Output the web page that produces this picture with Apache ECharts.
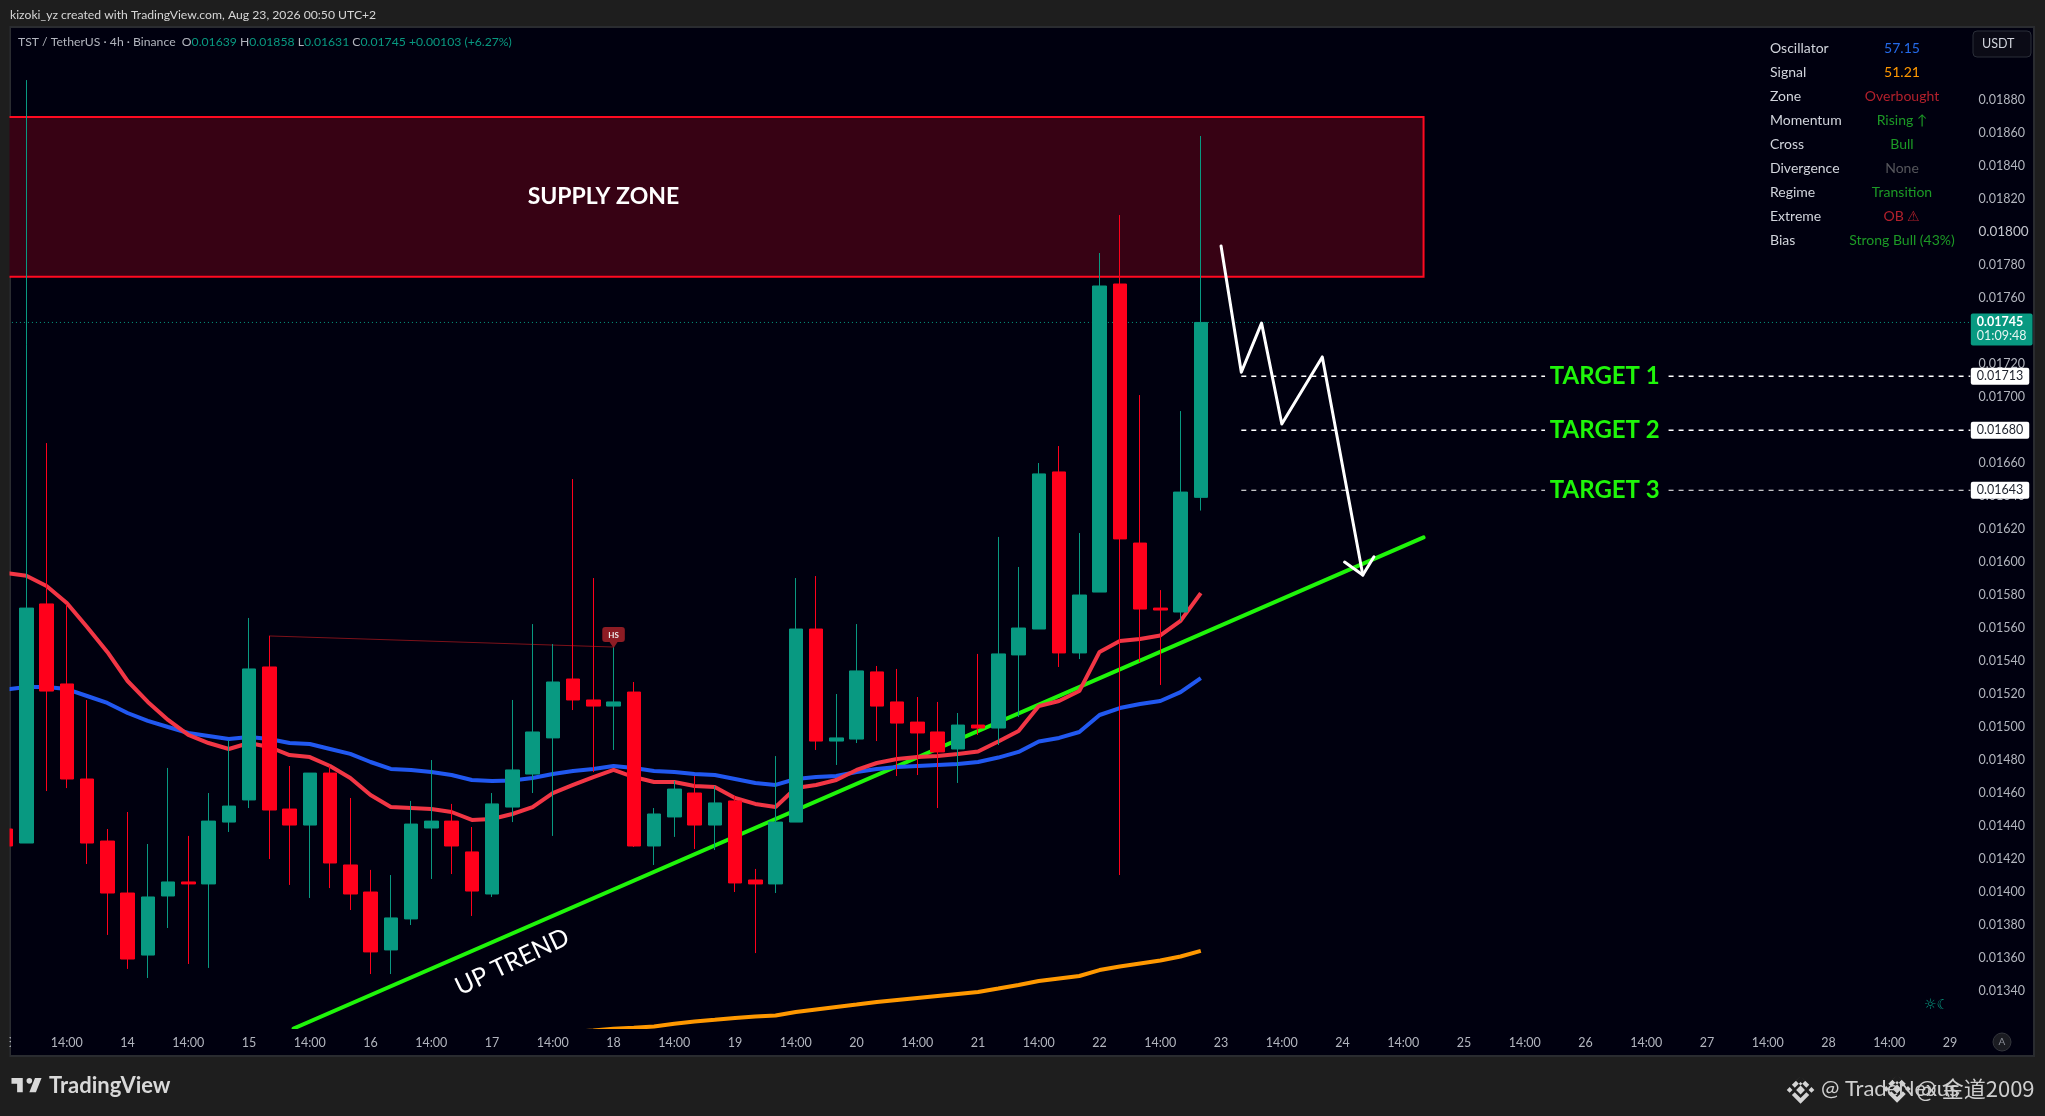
<!DOCTYPE html>
<html><head><meta charset="utf-8">
<style>html,body{margin:0;padding:0;background:#1e1e1e}#c{width:2045px;height:1116px}</style>
<script src="https://cdn.jsdelivr.net/npm/echarts@6/dist/echarts.min.js"></script>
</head><body><div id="c"></div>
<script>
const opens=[.014380,.014295,.015744,.015259,.014683,.014307,.013992,.013616,.013974,.014059,.014047,.014422,.014556,.015362,.014501,.014404,.014719,.014162,.013998,.013647,.013835,.014386,.014428,.014241,.013986,.014513,.014713,.014932,.015289,.015162,.015125,.015210,.014277,.014453,.014598,.014404,.014550,.014071,.014047,.014422,.015592,.014913,.014925,.015332,.015150,.015028,.014968,.014865,.015010,.014992,.015435,.015592,.016544,.015447,.015816,.017683,.016113,.015719,.015695,.016390];
const closes=[.014277,.015719,.015216,.014683,.014295,.013992,.013592,.013968,.014059,.014047,.014428,.014519,.015350,.014495,.014404,.014719,.014174,.013986,.013635,.013841,.014410,.014428,.014277,.014004,.014532,.014738,.014968,.015271,.015162,.015125,.015150,.014277,.014471,.014622,.014404,.014538,.014053,.014047,.014422,.015592,.014913,.014932,.015338,.015125,.015022,.014962,.014847,.015010,.014992,.015441,.015598,.016532,.015447,.015798,.017671,.016138,.015713,.015707,.016422,.017450];
const highs=[.014380,.018919,.016719,.015744,.015162,.014380,.014483,.014289,.014750,.014338,.014598,.014919,.015659,.015550,.014762,.014719,.014762,.014568,.014132,.014101,.014550,.014798,.014532,.014392,.014598,.015162,.015622,.015501,.016501,.015901,.015483,.015271,.014507,.014671,.014701,.014641,.014580,.014138,.014822,.015901,.015913,.015198,.015622,.015368,.015350,.015180,.015150,.015083,.015441,.016150,.015968,.016598,.016701,.016174,.017871,.018101,.017010,.015828,.016913,.018580];
const lows=[.014277,.014295,.014610,.014628,.014168,.013738,.013532,.013477,.013780,.013562,.013538,.014362,.014507,.014198,.014041,.013962,.014022,.013889,.013501,.013501,.013798,.014077,.014107,.013853,.013968,.014422,.014598,.014338,.015101,.014725,.014859,.014271,.014162,.014332,.014259,.014253,.013998,.013628,.013992,.014422,.014859,.014768,.014901,.014913,.014701,.014707,.014507,.014659,.014950,.014889,.015059,.015592,.015362,.015410,.015816,.014101,.015392,.015253,.015641,.016310];
const emaFast=[.015932,.015915,.015853,.015750,.015604,.015453,.015277,.015150,.015041,.014950,.014901,.014865,.014901,.014877,.014828,.014816,.014762,.014689,.014586,.014513,.014507,.014501,.014483,.014435,.014441,.014471,.014513,.014598,.014647,.014695,.014738,.014695,.014665,.014665,.014641,.014635,.014568,.014532,.014513,.014628,.014647,.014677,.014738,.014780,.014804,.014816,.014822,.014835,.014850,.014910,.014974,.015125,.015156,.015216,.015453,.015519,.015532,.015553,.015641,.015810];
const emaMid=[.015225,.015241,.015241,.015228,.015186,.015144,.015083,.015035,.014998,.014962,.014944,.014925,.014938,.014925,.014901,.014895,.014865,.014835,.014786,.014744,.014738,.014725,.014707,.014677,.014671,.014674,.014689,.014713,.014732,.014744,.014762,.014750,.014732,.014725,.014713,.014707,.014683,.014659,.014647,.014683,.014695,.014701,.014725,.014744,.014756,.014762,.014768,.014774,.014786,.014813,.014847,.014910,.014932,.014968,.015071,.015113,.015138,.015156,.015210,.015295];
const emaSlow=[null,null,null,null,null,null,null,null,null,null,null,null,null,null,null,null,null,null,null,null,null,null,null,null,null,null,null,null,.013150,.013159,.013169,.013175,.013183,.013200,.013214,.013224,.013235,.013244,.013250,.013271,.013286,.013301,.013316,.013332,.013344,.013356,.013368,.013380,.013392,.013413,.013435,.013459,.013474,.013489,.013525,.013547,.013565,.013583,.013607,.013641];
const timeTicks=['13','14:00','14','14:00','15','14:00','16','14:00','17','14:00','18','14:00','19','14:00','20','14:00','21','14:00','22','14:00','23','14:00','24','14:00','25','14:00','26','14:00','27','14:00','28','14:00','29'];
const priceTicks=[.0134,.0136,.0138,.014,.0142,.0144,.0146,.0148,.015,.0152,.0154,.0156,.0158,.016,.0162,.0164,.0166,.0168,.017,.0172,.0174,.0176,.0178,.018,.0182,.0184,.0186,.0188];
const firstBar=-1, barCount=98;
const supplyZone={fromBar:-1.5,toBar:69,top:.018695,bottom:.017727,label:'SUPPLY ZONE',labelBar:28.5};
const trendLine=[[13.2,.013171],[69,.016147]];
const pathLine=[[59,.017914],[60,.017148],[61,.017446],[62,.016835],[64,.017241],[66,.015919]];
const arrowHead=[[65.1,.015998],[66,.015919],[66.55,.016030]];
const targets=[{name:'TARGET 1',price:.01713,drawn:.017124,width:1.5},{name:'TARGET 2',price:.0168,drawn:.016797,width:1.5},{name:'TARGET 3',price:.01643,drawn:.016433,width:1}];
const targetBars={start:60,gapFrom:75,label:77.95,gapTo:81.1,end:96};
const lastPrice=.01745, countdown='01:09:48';
const hsLine=[[12,.015550],[29,.015483]];
const upTrendLabel=[24,.013574];
const tableLabels=['Oscillator','Signal','Zone','Momentum','Cross','Divergence','Regime','Extreme','Bias'];
const tableValues=['57.15','51.21','Overbought','Rising ↑','Bull','None','Transition','OB ⚠','Strong Bull (43%)'];
const tableColors=['#2469e8','#ff9800','#b2202c','#1c9a26','#1c9a26','#55565c','#1c9a26','#b2202c','#1c9a26'];

const FONT='Lato';
const categories=Array.from({length:barCount},(_,k)=>k%3===0?(timeTicks[k/3]||''):'');
const candles=opens.map((o,i)=>[o,closes[i],lows[i],highs[i]]);
const tx={xAxisIndex:1,yAxisIndex:0};
const plain=(name,data,color,width,z,extra)=>Object.assign({type:'line',name,data,...tx,symbol:'none',z,silent:true,animation:false,
  lineStyle:{color,width,cap:'round',join:'round'}},extra||{});
const textPoint=(value,text,style,z,extra)=>Object.assign({type:'scatter',...tx,data:[value],symbolSize:1,itemStyle:{color:'transparent',opacity:1},z,silent:true,animation:false,
  label:Object.assign({show:true,position:'inside',formatter:()=>text,fontFamily:FONT},style)},extra||{});

const series=[
 {type:'line',...tx,data:[],z:1,silent:true,animation:false,symbol:'none',
  markArea:{silent:true,itemStyle:{color:'#370214',opacity:1,borderColor:'#ff0a20',borderWidth:2},
   data:[[{coord:[supplyZone.fromBar,supplyZone.top]},{coord:[supplyZone.toBar,supplyZone.bottom]}]]}},
 plain('last',[[-1.5,lastPrice],[96,lastPrice]],'#089981',1,1.5,{lineStyle:{color:'#089981',width:1,type:[1,3]}}),
 plain('trend',trendLine,'#1ff50a',4,2),
 plain('hs',hsLine,'#7c1119',1,2),
 {type:'line',name:'ema mid',data:emaMid,xAxisIndex:0,yAxisIndex:0,symbol:'none',z:2,silent:true,animation:false,lineStyle:{color:'#2158f0',width:4}},
 {type:'line',name:'ema fast',data:emaFast,xAxisIndex:0,yAxisIndex:0,symbol:'none',z:2.1,silent:true,animation:false,lineStyle:{color:'#f23645',width:4}},
 {type:'line',name:'ema slow',data:emaSlow,xAxisIndex:0,yAxisIndex:0,symbol:'none',z:2,silent:true,animation:false,connectNulls:false,lineStyle:{color:'#ff9800',width:4}},
 {type:'candlestick',data:candles,xAxisIndex:0,yAxisIndex:0,barWidth:14,z:3,silent:true,animation:false,
  itemStyle:{color:'#089981',color0:'#ff001b',borderColor:'#089981',borderColor0:'#ff001b',borderWidth:1}},
 plain('path',pathLine,'#ffffff',3,4),
 plain('arrow',arrowHead,'#ffffff',3,4),
];
targets.forEach(t=>{
 series.push(plain(t.name+' a',[[targetBars.start,t.drawn],[targetBars.gapFrom,t.drawn]],'#ffffff',t.width,3.5,{lineStyle:{color:'#fff',width:t.width,type:[5,5]}}));
 series.push(plain(t.name+' b',[[targetBars.gapTo,t.drawn],[targetBars.end,t.drawn]],'#ffffff',t.width,3.5,{lineStyle:{color:'#fff',width:t.width,type:[5,5]}}));
 series.push(textPoint([targetBars.label,t.drawn],t.name,{color:'#1ff50a',fontSize:24,fontWeight:'bold'},5));
 series.push(textPoint([targetBars.end,t.drawn],t.price.toFixed(5),{position:'right',distance:0,color:'#1e222d',fontSize:12.5,backgroundColor:'#fff',padding:[2,6,2,6],borderRadius:2},6));
});
series.push(textPoint([targetBars.end,lastPrice],'{a|'+lastPrice.toFixed(5)+'}\n{b|'+countdown+'}',{position:'right',distance:0,offset:[0,7],backgroundColor:'#089981',padding:[2,6,2,6],borderRadius:2,
  rich:{a:{color:'#fff',fontSize:12.5,fontWeight:'bold',fontFamily:FONT,lineHeight:14},b:{color:'#e6f5f1',fontSize:12.5,fontFamily:FONT,lineHeight:14}}},6));
series.push(textPoint([supplyZone.labelBar,(supplyZone.top+supplyZone.bottom)/2],supplyZone.label,{color:'#fff',fontSize:23,fontWeight:'bold'},5));
series.push(textPoint(upTrendLabel,'UP TREND',{color:'#fff',fontSize:25,rotate:25.5},5));
series.push({type:'scatter',...tx,data:[[29,.015495]],symbol:'triangle',symbolRotate:180,symbolSize:[8,6],z:5,silent:true,animation:false,itemStyle:{color:'#8d1c24',opacity:1},
  label:{show:true,position:'top',distance:0,formatter:'HS',color:'#eee',fontSize:8,fontWeight:'bold',fontFamily:FONT,backgroundColor:'#8d1c24',padding:[4,6,3,6],borderRadius:3}});

const tvLogo='M14 6H2v6h6v9h6V6Zm14 15h-7l6-15h7l-6 15Zm-7-9a3 3 0 1 0 0-6 3 3 0 0 0 0 6Z';
const binance='M12 2l3.4 3.4L12 8.8 8.6 5.4 12 2Zm-6.3 6.3 2.1 2.1L12 6.2l4.2 4.2 2.1-2.1L12 2 5.7 8.3ZM2 12l2.1-2.1L6.2 12l-2.1 2.1L2 12Zm6.8 0L12 8.8l3.2 3.2-3.2 3.2L8.8 12Zm11.1-2.1L22 12l-2.1 2.1-2.1-2.1 2.1-2.1ZM5.7 15.7l2.1-2.1 4.2 4.2 4.2-4.2 2.1 2.1L12 22l-6.3-6.3Z';
echarts.graphic.registerShape('tvLogo',echarts.graphic.extendPath(tvLogo,{}));
echarts.graphic.registerShape('binanceLogo',echarts.graphic.extendPath(binance,{}));

const g=[];
const T=(text,x,y,fill,font,extra)=>g.push(Object.assign({type:'text',silent:true,z:50,x,y,style:{text,fill,font,verticalAlign:'middle'}},extra||{}));
g.push({type:'rect',silent:true,z:-5,shape:{x:10,y:27,width:2024,height:1029},style:{fill:'#00000f',stroke:'#2a2c30',lineWidth:2}});
g.push({type:'rect',silent:true,z:60,shape:{x:0,y:0,width:9.5,height:1116},style:{fill:'#1e1e1e'}});
g.push({type:'rect',silent:true,z:60,shape:{x:11,y:1033,width:8,height:18},style:{fill:'#00000f'}});
T('kizoki_yz created with TradingView.com, Aug 23, 2026 00:50 UTC+2',10,15,'#d6d6d6','12.2px '+FONT);
g.push({type:'text',silent:true,z:50,x:18,y:42,style:{verticalAlign:'middle',fill:'#b2b5be',font:'12.2px '+FONT,
  text:'{g|TST / TetherUS · 4h · Binance  O}{v|0.01639}{g| H}{v|0.01858}{g| L}{v|0.01631}{g| C}{v|0.01745}{v| +0.00103 (+6.27%)}',
  rich:{g:{fill:'#b2b5be',font:'12.2px '+FONT},v:{fill:'#089981',font:'12.2px '+FONT}}}});
tableLabels.forEach((l,i)=>{
  T(l,1770,48.3+i*24,'#d1d4dc','14px '+FONT);
  g.push({type:'text',silent:true,z:50,x:1902,y:48.3+i*24,style:{text:tableValues[i],fill:tableColors[i],font:'14px '+FONT,align:'center',verticalAlign:'middle'}});
});
g.push({type:'rect',silent:true,z:50,shape:{x:1973,y:31,width:58,height:26,r:4},style:{fill:'#0b0b16',stroke:'#2a2e39',lineWidth:1}});
T('USDT',1982,44,'#d1d4dc','12.5px '+FONT);
g.push({type:'circle',silent:true,z:50,shape:{cx:2002,cy:1042,r:9},style:{fill:'#1b1c22',stroke:'#33353c',lineWidth:1}});
g.push({type:'text',silent:true,z:51,x:2002,y:1042,style:{text:'A',fill:'#8a8d96',font:'10px '+FONT,align:'center',verticalAlign:'middle'}});
T('☼☾',1924,1005,'#089981','14px "DejaVu Sans"');
g.push({type:'tvLogo',silent:true,z:50,x:9.6,y:1072.4,scaleX:.94,scaleY:.94,shape:{},style:{fill:'#d9d9d9'}});
T('TradingView',49,1086,'#d9d9d9','bold 22px '+FONT);
[[1784,1073.4],[1880.5,1072.4]].forEach(p=>g.push({type:'binanceLogo',silent:true,z:50,x:p[0],y:p[1],scaleX:1.38,scaleY:1.38,shape:{},style:{fill:'#d4d4d4'}}));
T('@ TradeNexus',1821,1089,'#cfcfcf','22px '+FONT);
T('@ 金道2009',1916,1089,'#cfcfcf','22px "Noto Sans CJK SC"');

const chart=echarts.init(document.getElementById('c'),null,{renderer:'canvas',width:2045,height:1116});
chart.setOption({
 animation:false,backgroundColor:'#1e1e1e',
 grid:{left:-4.07,top:27,width:barCount*20.25,height:1000,containLabel:false,outerBoundsMode:'none'},
 xAxis:[
  {type:'category',data:categories,position:'bottom',axisLine:{show:false},axisTick:{show:false},splitLine:{show:false},
   axisLabel:{interval:0,color:'#b2b5be',fontSize:12.5,fontFamily:FONT,margin:9,hideOverlap:false}},
  {type:'value',min:firstBar-.5,max:firstBar-.5+barCount,show:false,splitLine:{show:false}}
 ],
 yAxis:[{type:'value',position:'right',min:.01318,max:.01924061,axisLine:{show:false},axisTick:{show:false},splitLine:{show:false},
   axisLabel:{customValues:priceTicks,inside:false,align:'left',margin:-2,fontFamily:FONT,fontSize:12.5,color:'#b2b5be',
    formatter:v=>Math.abs(v-.018)<1e-9?'{b|'+v.toFixed(5)+'}':v.toFixed(5),rich:{b:{fontSize:13.5,fontFamily:FONT,color:'#c4c6ce'}}}}],
 series,
 graphic:{elements:g}
});
</script></body></html>
